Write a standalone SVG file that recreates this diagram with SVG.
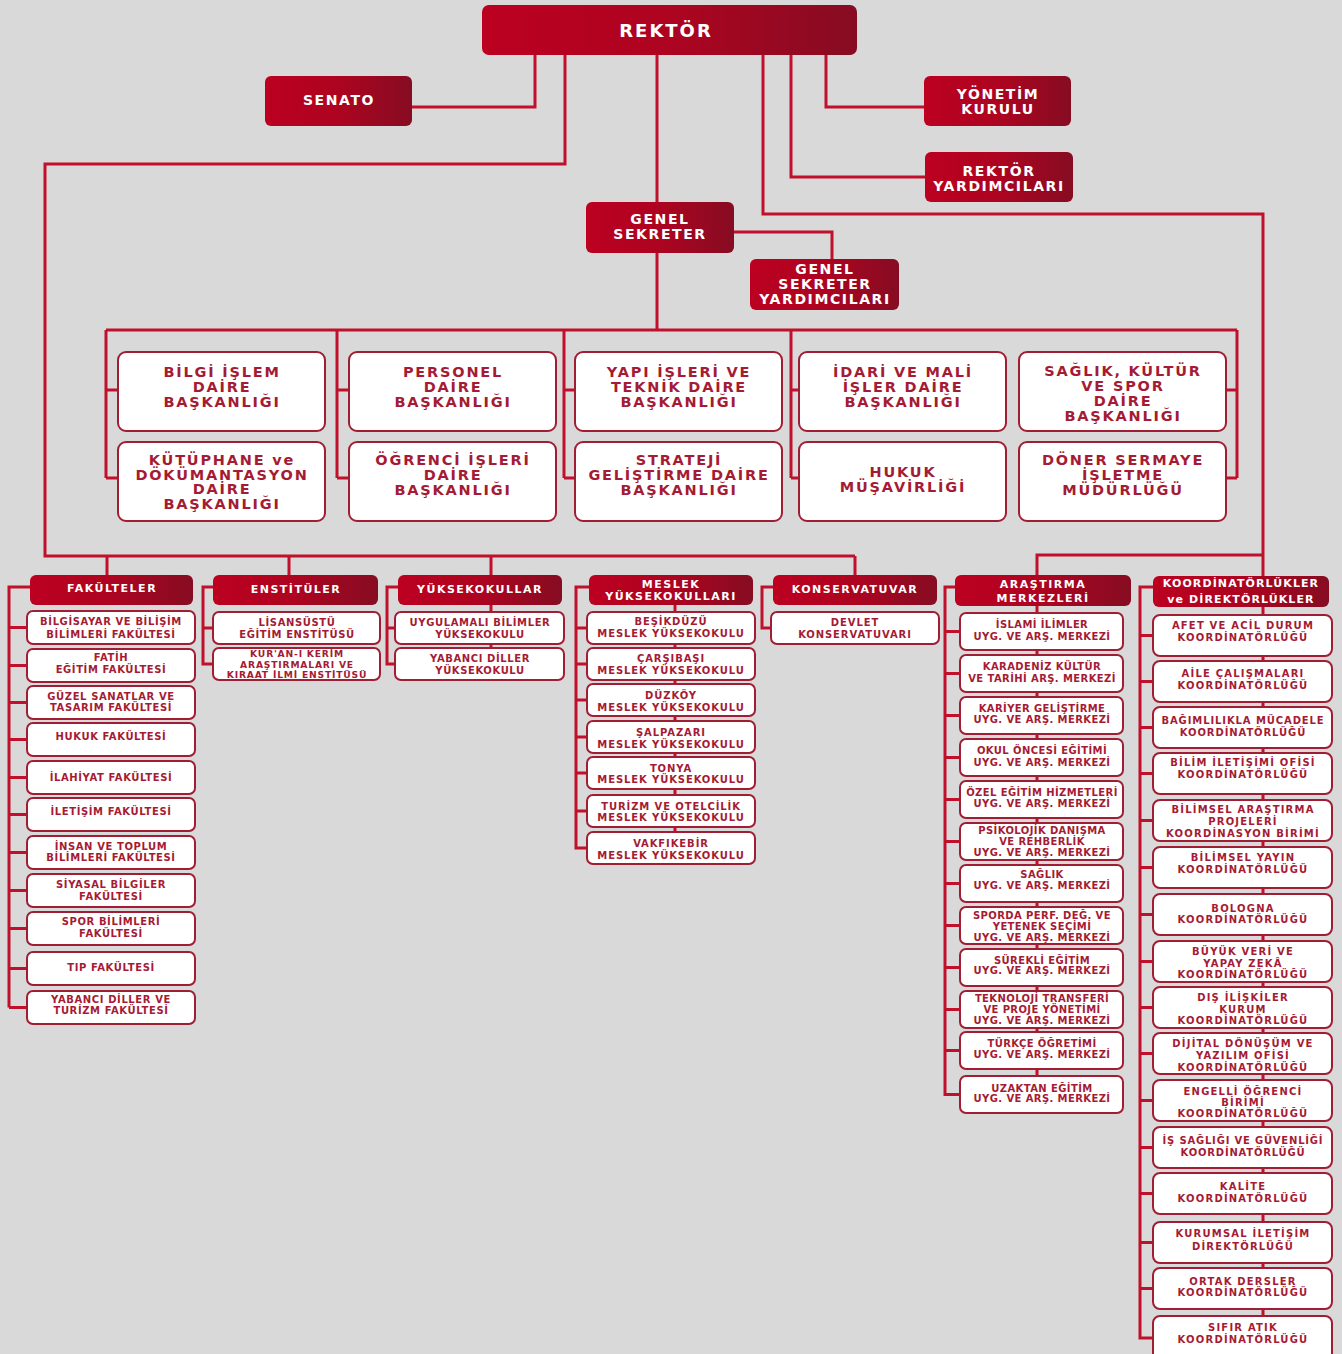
<svg xmlns="http://www.w3.org/2000/svg" width="1342" height="1354" viewBox="0 0 1342 1354">
<defs>
<linearGradient id="rg" x1="0" y1="0" x2="1" y2="0">
<stop offset="0" stop-color="#bc0020"/>
<stop offset="0.5" stop-color="#ad0420"/>
<stop offset="1" stop-color="#860c22"/>
</linearGradient>
<style>
.dk{fill:url(#rg)}
.wb{fill:#fff;stroke:#a01d34;stroke-width:2}
.ln{fill:none;stroke:#c0102c;stroke-width:3}
.t{font-family:"DejaVu Sans","Liberation Sans",sans-serif;font-weight:bold;text-anchor:middle}
.w{fill:#fff}
.r{fill:#a51b34}
.f17{font-size:18px;letter-spacing:2px}
.f135{font-size:14px;letter-spacing:1.6px}
.f14{font-size:14.5px;letter-spacing:1.8px}
.f105{font-size:11px;letter-spacing:1.5px}
.s{font-size:10px;letter-spacing:0.6px}
.sa{letter-spacing:0.4px}
.sk{letter-spacing:1.2px}
.sm{letter-spacing:0.9px}
.se{font-size:9.2px;letter-spacing:0.8px}
</style>
</defs>
<rect width="1342" height="1354" fill="#d9d9d9"/>

<g id="connectors" class="ln">
<path d="M535 55V107H412"/>
<path d="M565 55V164H45V556H855"/>
<path d="M107 556V575M289 556V575M491 556V648M855 556V575"/>
<path d="M657 55V202M657 253V330"/>
<path d="M763 55V214H1263V1316M1263 555H1037V1076"/>
<path d="M791 55V177H925"/>
<path d="M826 55V107H924"/>
<path d="M734 232H832V259"/>
<path d="M106 330H1237"/>
<path d="M106 330V478M337 330V478M564 330V478M791 330V478M1237 330V478"/>
<path d="M106 390H118M106 478H118M337 390H349M337 478H349M564 390H575M564 478H575M791 390H799M791 478H799M1237 390H1226M1237 478H1226"/>
<path d="M675 605V832"/>
<path d="M30 587H9V1007.5M9 627.5H27M9 665.5H27M9 702.5H27M9 739.5H27M9 777.5H27M9 814.5H27M9 852.5H27M9 890.5H27M9 928.5H27M9 968.5H27M9 1007.5H27"/>
<path d="M213 587H203V664H213M203 628H213"/>
<path d="M398 587H387V664H395M387 628H395"/>
<path d="M589 587H576V848H587M576 628H587M576 664H587M576 700H587M576 737H587M576 773H587M576 811H587"/>
<path d="M773 587H762V628H771"/>
<path d="M955 587H945V1094.5H960M945 631.5H960M945 673.5H960M945 715.5H960M945 757.5H960M945 799.5H960M945 841.5H960M945 883.5H960M945 925.5H960M945 967.5H960M945 1009.5H960M945 1050.5H960"/>
<path d="M1153 587H1140V1338H1153M1140 635.5H1153M1140 681.5H1153M1140 727.5H1153M1140 773.5H1153M1140 820.5H1153M1140 867.5H1153M1140 914.5H1153M1140 961.5H1153M1140 1007.5H1153M1140 1053.5H1153M1140 1100.5H1153M1140 1147.5H1153M1140 1193.5H1153M1140 1242.5H1153M1140 1288.5H1153"/>
</g>

<g id="rektor"><rect class="dk" x="482" y="5" width="375" height="50" rx="7"/><text class="t w f17" x="666" y="36.5">REKTÖR</text></g>
<g id="senato"><rect class="dk" x="265" y="76" width="147" height="50" rx="6"/><text class="t w f135" x="339" y="105">SENATO</text></g>
<g id="yonetim-kurulu"><rect class="dk" x="924" y="76" width="147" height="50" rx="6"/><text class="t w f135"><tspan x="998" y="99">YÖNETİM</tspan><tspan x="998" y="114">KURULU</tspan></text></g>
<g id="rektor-yardimcilari"><rect class="dk" x="925" y="152" width="148" height="50" rx="6"/><text class="t w f135"><tspan x="999" y="176">REKTÖR</tspan><tspan x="999" y="191">YARDIMCILARI</tspan></text></g>
<g id="genel-sekreter"><rect class="dk" x="586" y="202" width="148" height="51" rx="6"/><text class="t w f135"><tspan x="660" y="224">GENEL</tspan><tspan x="660" y="239">SEKRETER</tspan></text></g>
<g id="genel-sekreter-yardimcilari"><rect class="dk" x="750" y="259" width="149" height="51" rx="6"/><text class="t w f135"><tspan x="825" y="274">GENEL</tspan><tspan x="825" y="289">SEKRETER</tspan><tspan x="825" y="304">YARDIMCILARI</tspan></text></g>

<g id="bilgi-islem"><rect class="wb" x="118" y="352" width="207" height="79" rx="8"/><text class="t r f14"><tspan x="222" y="377">BİLGİ İŞLEM</tspan><tspan x="222" y="392">DAİRE</tspan><tspan x="222" y="407">BAŞKANLIĞI</tspan></text></g>
<g id="personel"><rect class="wb" x="349" y="352" width="207" height="79" rx="8"/><text class="t r f14"><tspan x="453" y="377">PERSONEL</tspan><tspan x="453" y="392">DAİRE</tspan><tspan x="453" y="407">BAŞKANLIĞI</tspan></text></g>
<g id="yapi-isleri"><rect class="wb" x="575" y="352" width="207" height="79" rx="8"/><text class="t r f14"><tspan x="679" y="377">YAPI İŞLERİ VE</tspan><tspan x="679" y="392">TEKNİK DAİRE</tspan><tspan x="679" y="407">BAŞKANLIĞI</tspan></text></g>
<g id="idari-mali"><rect class="wb" x="799" y="352" width="207" height="79" rx="8"/><text class="t r f14"><tspan x="903" y="377">İDARİ VE MALİ</tspan><tspan x="903" y="392">İŞLER DAİRE</tspan><tspan x="903" y="407">BAŞKANLIĞI</tspan></text></g>
<g id="saglik-kultur"><rect class="wb" x="1019" y="352" width="207" height="79" rx="8"/><text class="t r f14"><tspan x="1123" y="376">SAĞLIK, KÜLTÜR</tspan><tspan x="1123" y="391">VE SPOR</tspan><tspan x="1123" y="406">DAİRE</tspan><tspan x="1123" y="421">BAŞKANLIĞI</tspan></text></g>
<g id="kutuphane"><rect class="wb" x="118" y="442" width="207" height="79" rx="8"/><text class="t r f14"><tspan x="222" y="465">KÜTÜPHANE ve</tspan><tspan x="222" y="480">DÖKÜMANTASYON</tspan><tspan x="222" y="494">DAİRE</tspan><tspan x="222" y="509">BAŞKANLIĞI</tspan></text></g>
<g id="ogrenci-isleri"><rect class="wb" x="349" y="442" width="207" height="79" rx="8"/><text class="t r f14"><tspan x="453" y="465">ÖĞRENCİ İŞLERİ</tspan><tspan x="453" y="480">DAİRE</tspan><tspan x="453" y="495">BAŞKANLIĞI</tspan></text></g>
<g id="strateji"><rect class="wb" x="575" y="442" width="207" height="79" rx="8"/><text class="t r f14"><tspan x="679" y="465">STRATEJİ</tspan><tspan x="679" y="480">GELİŞTİRME DAİRE</tspan><tspan x="679" y="495">BAŞKANLIĞI</tspan></text></g>
<g id="hukuk-musavirligi"><rect class="wb" x="799" y="442" width="207" height="79" rx="8"/><text class="t r f14"><tspan x="903" y="477">HUKUK</tspan><tspan x="903" y="492">MÜŞAVİRLİĞİ</tspan></text></g>
<g id="doner-sermaye"><rect class="wb" x="1019" y="442" width="207" height="79" rx="8"/><text class="t r f14"><tspan x="1123" y="465">DÖNER SERMAYE</tspan><tspan x="1123" y="480">İŞLETME</tspan><tspan x="1123" y="495">MÜDÜRLÜĞÜ</tspan></text></g>

<g id="fakulteler"><rect class="dk" x="30" y="575" width="163" height="30" rx="6"/><text class="t w f105" x="112" y="592">FAKÜLTELER</text></g>
<g id="enstituler"><rect class="dk" x="213" y="575" width="165" height="30" rx="6"/><text class="t w f105" x="296" y="593">ENSTİTÜLER</text></g>
<g id="yuksekokullar"><rect class="dk" x="398" y="575" width="164" height="30" rx="6"/><text class="t w f105" x="480" y="593">YÜKSEKOKULLAR</text></g>
<g id="meslek-yuksekokullari"><rect class="dk" x="589" y="575" width="164" height="30" rx="6"/><text class="t w f105"><tspan x="671" y="588">MESLEK</tspan><tspan x="671" y="600">YÜKSEKOKULLARI</tspan></text></g>
<g id="konservatuvar"><rect class="dk" x="773" y="575" width="164" height="30" rx="6"/><text class="t w f105" x="855" y="593">KONSERVATUVAR</text></g>
<g id="arastirma-merkezleri"><rect class="dk" x="955" y="575" width="176" height="31" rx="6"/><text class="t w f105"><tspan x="1043" y="588">ARAŞTIRMA</tspan><tspan x="1043" y="602">MERKEZLERİ</tspan></text></g>
<g id="koordinatorlukler"><rect class="dk" x="1153" y="576" width="176" height="31" rx="6"/><text class="t w f105" style="letter-spacing:1.1px"><tspan x="1241" y="587">KOORDİNATÖRLÜKLER</tspan><tspan x="1241" y="603">ve DİREKTÖRLÜKLER</tspan></text></g>

<g id="fak-bilgisayar"><rect class="wb" x="27" y="611" width="168" height="33" rx="6"/><text class="t r s"><tspan x="111" y="625">BİLGİSAYAR VE BİLİŞİM</tspan><tspan x="111" y="637.5">BİLİMLERİ FAKÜLTESİ</tspan></text></g>
<g id="fak-fatih"><rect class="wb" x="27" y="649" width="168" height="33" rx="6"/><text class="t r s"><tspan x="111" y="660.5">FATİH</tspan><tspan x="111" y="672.5">EĞİTİM FAKÜLTESİ</tspan></text></g>
<g id="fak-guzel-sanatlar"><rect class="wb" x="27" y="686" width="168" height="33" rx="6"/><text class="t r s"><tspan x="111" y="699.5">GÜZEL SANATLAR VE</tspan><tspan x="111" y="711">TASARIM FAKÜLTESİ</tspan></text></g>
<g id="fak-hukuk"><rect class="wb" x="27" y="723" width="168" height="33" rx="6"/><text class="t r s" x="111" y="740">HUKUK FAKÜLTESİ</text></g>
<g id="fak-ilahiyat"><rect class="wb" x="27" y="761" width="168" height="33" rx="6"/><text class="t r s" x="111" y="781">İLAHİYAT FAKÜLTESİ</text></g>
<g id="fak-iletisim"><rect class="wb" x="27" y="798" width="168" height="33" rx="6"/><text class="t r s" x="111" y="814.5">İLETİŞİM FAKÜLTESİ</text></g>
<g id="fak-insan-toplum"><rect class="wb" x="27" y="836" width="168" height="33" rx="6"/><text class="t r s"><tspan x="111" y="849.5">İNSAN VE TOPLUM</tspan><tspan x="111" y="861">BİLİMLERİ FAKÜLTESİ</tspan></text></g>
<g id="fak-siyasal"><rect class="wb" x="27" y="874" width="168" height="33" rx="6"/><text class="t r s"><tspan x="111" y="887.5">SİYASAL BİLGİLER</tspan><tspan x="111" y="899.5">FAKÜLTESİ</tspan></text></g>
<g id="fak-spor"><rect class="wb" x="27" y="912" width="168" height="33" rx="6"/><text class="t r s"><tspan x="111" y="924.5">SPOR BİLİMLERİ</tspan><tspan x="111" y="936.5">FAKÜLTESİ</tspan></text></g>
<g id="fak-tip"><rect class="wb" x="27" y="952" width="168" height="33" rx="6"/><text class="t r s" x="111" y="971">TIP FAKÜLTESİ</text></g>
<g id="fak-yabanci-diller"><rect class="wb" x="27" y="991" width="168" height="33" rx="6"/><text class="t r s"><tspan x="111" y="1002.5">YABANCI DİLLER VE</tspan><tspan x="111" y="1014">TURİZM FAKÜLTESİ</tspan></text></g>

<g id="ens-lisansustu"><rect class="wb" x="213" y="612" width="167" height="32" rx="6"/><text class="t r s"><tspan x="297" y="625.5">LİSANSÜSTÜ</tspan><tspan x="297" y="637.5">EĞİTİM ENSTİTÜSÜ</tspan></text></g>
<g id="ens-kuran"><rect class="wb" x="213" y="648" width="167" height="32" rx="6"/><text class="t r se"><tspan x="297" y="657">KUR'AN-I KERİM</tspan><tspan x="297" y="667.5">ARAŞTIRMALARI VE</tspan><tspan x="297" y="678">KIRAAT İLMİ ENSTİTÜSÜ</tspan></text></g>

<g id="yo-uygulamali"><rect class="wb" x="395" y="612" width="169" height="32" rx="6"/><text class="t r s"><tspan x="480" y="625.5">UYGULAMALI BİLİMLER</tspan><tspan x="480" y="637.5">YÜKSEKOKULU</tspan></text></g>
<g id="yo-yabanci-diller"><rect class="wb" x="395" y="648" width="169" height="32" rx="6"/><text class="t r s"><tspan x="480" y="661.5">YABANCI DİLLER</tspan><tspan x="480" y="673.5">YÜKSEKOKULU</tspan></text></g>

<g id="myo-besikduzu"><rect class="wb" x="587" y="612" width="168" height="32" rx="6"/><text class="t r s sm"><tspan x="671" y="624.5">BEŞİKDÜZÜ</tspan><tspan x="671" y="636.5">MESLEK YÜKSEKOKULU</tspan></text></g>
<g id="myo-carsibasi"><rect class="wb" x="587" y="648" width="168" height="32" rx="6"/><text class="t r s sm"><tspan x="671" y="661.5">ÇARŞIBAŞI</tspan><tspan x="671" y="673.5">MESLEK YÜKSEKOKULU</tspan></text></g>
<g id="myo-duzkoy"><rect class="wb" x="587" y="684" width="168" height="32" rx="6"/><text class="t r s sm"><tspan x="671" y="698.5">DÜZKÖY</tspan><tspan x="671" y="710.5">MESLEK YÜKSEKOKULU</tspan></text></g>
<g id="myo-salpazari"><rect class="wb" x="587" y="721" width="168" height="32" rx="6"/><text class="t r s sm"><tspan x="671" y="735.5">ŞALPAZARI</tspan><tspan x="671" y="747.5">MESLEK YÜKSEKOKULU</tspan></text></g>
<g id="myo-tonya"><rect class="wb" x="587" y="757" width="168" height="32" rx="6"/><text class="t r s sm"><tspan x="671" y="771.5">TONYA</tspan><tspan x="671" y="782.5">MESLEK YÜKSEKOKULU</tspan></text></g>
<g id="myo-turizm"><rect class="wb" x="587" y="795" width="168" height="32" rx="6"/><text class="t r s sm"><tspan x="671" y="809.5">TURİZM VE OTELCİLİK</tspan><tspan x="671" y="820.5">MESLEK YÜKSEKOKULU</tspan></text></g>
<g id="myo-vakfikebir"><rect class="wb" x="587" y="832" width="168" height="32" rx="6"/><text class="t r s sm"><tspan x="671" y="846.5">VAKFIKEBİR</tspan><tspan x="671" y="858.5">MESLEK YÜKSEKOKULU</tspan></text></g>

<g id="devlet-konservatuvari"><rect class="wb" x="771" y="612" width="168" height="32" rx="6"/><text class="t r s sm"><tspan x="855" y="625.5">DEVLET</tspan><tspan x="855" y="637.5">KONSERVATUVARI</tspan></text></g>

<g id="am-islami"><rect class="wb" x="960" y="613" width="163" height="37" rx="6"/><text class="t r s sa"><tspan x="1042" y="627.5">İSLAMİ İLİMLER</tspan><tspan x="1042" y="639.5">UYG. VE ARŞ. MERKEZİ</tspan></text></g>
<g id="am-karadeniz"><rect class="wb" x="960" y="655" width="163" height="37" rx="6"/><text class="t r s sa"><tspan x="1042" y="669.5">KARADENİZ KÜLTÜR</tspan><tspan x="1042" y="681.5">VE TARİHİ ARŞ. MERKEZİ</tspan></text></g>
<g id="am-kariyer"><rect class="wb" x="960" y="697" width="163" height="37" rx="6"/><text class="t r s sa"><tspan x="1042" y="711.5">KARİYER GELİŞTİRME</tspan><tspan x="1042" y="723">UYG. VE ARŞ. MERKEZİ</tspan></text></g>
<g id="am-okul-oncesi"><rect class="wb" x="960" y="739" width="163" height="37" rx="6"/><text class="t r s sa"><tspan x="1042" y="753.5">OKUL ÖNCESİ EĞİTİMİ</tspan><tspan x="1042" y="765.5">UYG. VE ARŞ. MERKEZİ</tspan></text></g>
<g id="am-ozel-egitim"><rect class="wb" x="960" y="781" width="163" height="37" rx="6"/><text class="t r s sa"><tspan x="1042" y="795.5">ÖZEL EĞİTİM HİZMETLERİ</tspan><tspan x="1042" y="807">UYG. VE ARŞ. MERKEZİ</tspan></text></g>
<g id="am-psikolojik"><rect class="wb" x="960" y="823" width="163" height="37" rx="6"/><text class="t r s sa"><tspan x="1042" y="833.5">PSİKOLOJİK DANIŞMA</tspan><tspan x="1042" y="844.5">VE REHBERLİK</tspan><tspan x="1042" y="855.5">UYG. VE ARŞ. MERKEZİ</tspan></text></g>
<g id="am-saglik"><rect class="wb" x="960" y="865" width="163" height="37" rx="6"/><text class="t r s sa"><tspan x="1042" y="877.5">SAĞLIK</tspan><tspan x="1042" y="889">UYG. VE ARŞ. MERKEZİ</tspan></text></g>
<g id="am-sporda"><rect class="wb" x="960" y="907" width="163" height="37" rx="6"/><text class="t r s sa"><tspan x="1042" y="918.5">SPORDA PERF. DEĞ. VE</tspan><tspan x="1042" y="929.5">YETENEK SEÇİMİ</tspan><tspan x="1042" y="940.5">UYG. VE ARŞ. MERKEZİ</tspan></text></g>
<g id="am-surekli"><rect class="wb" x="960" y="949" width="163" height="37" rx="6"/><text class="t r s sa"><tspan x="1042" y="963.5">SÜREKLİ EĞİTİM</tspan><tspan x="1042" y="974">UYG. VE ARŞ. MERKEZİ</tspan></text></g>
<g id="am-teknoloji"><rect class="wb" x="960" y="991" width="163" height="37" rx="6"/><text class="t r s sa"><tspan x="1042" y="1001.5">TEKNOLOJİ TRANSFERİ</tspan><tspan x="1042" y="1012.5">VE PROJE YÖNETİMİ</tspan><tspan x="1042" y="1023.5">UYG. VE ARŞ. MERKEZİ</tspan></text></g>
<g id="am-turkce"><rect class="wb" x="960" y="1032" width="163" height="37" rx="6"/><text class="t r s sa"><tspan x="1042" y="1046.5">TÜRKÇE ÖĞRETİMİ</tspan><tspan x="1042" y="1058">UYG. VE ARŞ. MERKEZİ</tspan></text></g>
<g id="am-uzaktan"><rect class="wb" x="960" y="1076" width="163" height="37" rx="6"/><text class="t r s sa"><tspan x="1042" y="1091.5">UZAKTAN EĞİTİM</tspan><tspan x="1042" y="1102">UYG. VE ARŞ. MERKEZİ</tspan></text></g>

<g id="ko-afet"><rect class="wb" x="1153" y="615" width="179" height="41" rx="7"/><text class="t r s sk"><tspan x="1243" y="628.5">AFET VE ACİL DURUM</tspan><tspan x="1243" y="640.5">KOORDİNATÖRLÜĞÜ</tspan></text></g>
<g id="ko-aile"><rect class="wb" x="1153" y="661" width="179" height="41" rx="7"/><text class="t r s sk"><tspan x="1243" y="676.5">AİLE ÇALIŞMALARI</tspan><tspan x="1243" y="688.5">KOORDİNATÖRLÜĞÜ</tspan></text></g>
<g id="ko-bagimlilik"><rect class="wb" x="1153" y="707" width="179" height="41" rx="7"/><text class="t r s sk" style="letter-spacing:0.9px"><tspan x="1243" y="723.5">BAĞIMLILIKLA MÜCADELE</tspan><tspan x="1243" y="735.5">KOORDİNATÖRLÜĞÜ</tspan></text></g>
<g id="ko-bilim-iletisimi"><rect class="wb" x="1153" y="753" width="179" height="41" rx="7"/><text class="t r s sk"><tspan x="1243" y="765.5">BİLİM İLETİŞİMİ OFİSİ</tspan><tspan x="1243" y="777.5">KOORDİNATÖRLÜĞÜ</tspan></text></g>
<g id="ko-bilimsel-arastirma"><rect class="wb" x="1153" y="800" width="179" height="41" rx="7"/><text class="t r s sk"><tspan x="1243" y="812.5">BİLİMSEL ARAŞTIRMA</tspan><tspan x="1243" y="824.5">PROJELERİ</tspan><tspan x="1243" y="836.5">KOORDİNASYON BİRİMİ</tspan></text></g>
<g id="ko-bilimsel-yayin"><rect class="wb" x="1153" y="847" width="179" height="41" rx="7"/><text class="t r s sk"><tspan x="1243" y="860.5">BİLİMSEL YAYIN</tspan><tspan x="1243" y="872.5">KOORDİNATÖRLÜĞÜ</tspan></text></g>
<g id="ko-bologna"><rect class="wb" x="1153" y="894" width="179" height="41" rx="7"/><text class="t r s sk"><tspan x="1243" y="911.5">BOLOGNA</tspan><tspan x="1243" y="923">KOORDİNATÖRLÜĞÜ</tspan></text></g>
<g id="ko-buyuk-veri"><rect class="wb" x="1153" y="941" width="179" height="41" rx="7"/><text class="t r s sk"><tspan x="1243" y="954.5">BÜYÜK VERİ VE</tspan><tspan x="1243" y="966.5">YAPAY ZEKÂ</tspan><tspan x="1243" y="977.5">KOORDİNATÖRLÜĞÜ</tspan></text></g>
<g id="ko-dis-iliskiler"><rect class="wb" x="1153" y="987" width="179" height="41" rx="7"/><text class="t r s sk"><tspan x="1243" y="1000.5">DIŞ İLİŞKİLER</tspan><tspan x="1243" y="1012.5">KURUM</tspan><tspan x="1243" y="1023.5">KOORDİNATÖRLÜĞÜ</tspan></text></g>
<g id="ko-dijital"><rect class="wb" x="1153" y="1033" width="179" height="41" rx="7"/><text class="t r s sk"><tspan x="1243" y="1046.5">DİJİTAL DÖNÜŞÜM VE</tspan><tspan x="1243" y="1058.5">YAZILIM OFİSİ</tspan><tspan x="1243" y="1070.5">KOORDİNATÖRLÜĞÜ</tspan></text></g>
<g id="ko-engelli"><rect class="wb" x="1153" y="1080" width="179" height="41" rx="7"/><text class="t r s sk"><tspan x="1243" y="1094.5">ENGELLİ ÖĞRENCİ</tspan><tspan x="1243" y="1105.5">BİRİMİ</tspan><tspan x="1243" y="1116.5">KOORDİNATÖRLÜĞÜ</tspan></text></g>
<g id="ko-is-sagligi"><rect class="wb" x="1153" y="1127" width="179" height="41" rx="7"/><text class="t r s sk" style="letter-spacing:0.8px"><tspan x="1243" y="1143.5">İŞ SAĞLIĞI VE GÜVENLİĞİ</tspan><tspan x="1243" y="1155.5">KOORDİNATÖRLÜĞÜ</tspan></text></g>
<g id="ko-kalite"><rect class="wb" x="1153" y="1173" width="179" height="41" rx="7"/><text class="t r s sk"><tspan x="1243" y="1189.5">KALİTE</tspan><tspan x="1243" y="1201.5">KOORDİNATÖRLÜĞÜ</tspan></text></g>
<g id="ko-kurumsal-iletisim"><rect class="wb" x="1153" y="1222" width="179" height="41" rx="7"/><text class="t r s sk"><tspan x="1243" y="1236.5">KURUMSAL İLETİŞİM</tspan><tspan x="1243" y="1249.5">DİREKTÖRLÜĞÜ</tspan></text></g>
<g id="ko-ortak-dersler"><rect class="wb" x="1153" y="1268" width="179" height="41" rx="7"/><text class="t r s sk"><tspan x="1243" y="1284.5">ORTAK DERSLER</tspan><tspan x="1243" y="1296">KOORDİNATÖRLÜĞÜ</tspan></text></g>
<g id="ko-sifir-atik"><rect class="wb" x="1153" y="1316" width="179" height="44" rx="7"/><text class="t r s sk"><tspan x="1243" y="1330.5">SIFIR ATIK</tspan><tspan x="1243" y="1342.5">KOORDİNATÖRLÜĞÜ</tspan></text></g>
</svg>
